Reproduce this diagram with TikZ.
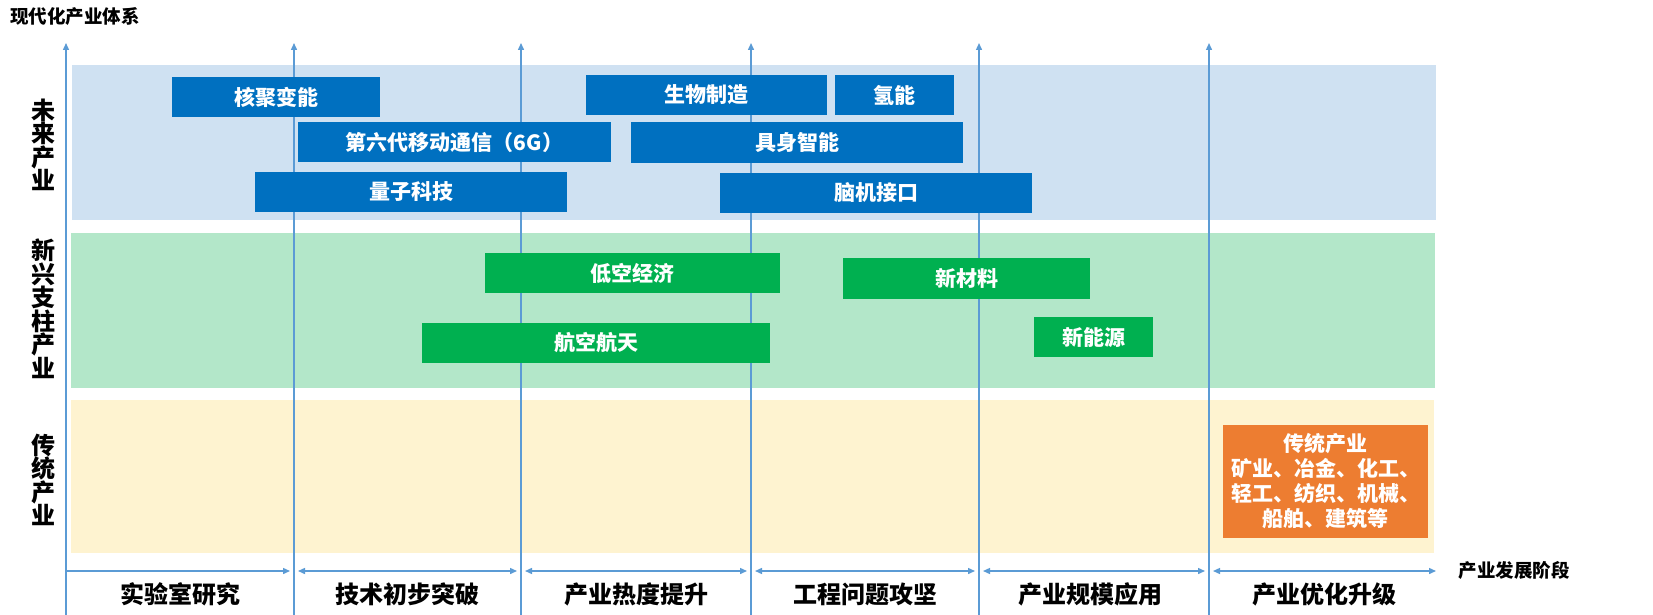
\documentclass[tikz,border=0pt]{standalone}
\usepackage{fontspec}
\setmainfont{Noto Sans CJK SC}
\usetikzlibrary{arrows.meta}
\definecolor{axisblue}{HTML}{5B9BD5}
\definecolor{bandblue}{HTML}{CFE1F2}
\definecolor{bandgreen}{HTML}{B3E7C9}
\definecolor{bandyellow}{HTML}{FEF3D0}
\definecolor{boxblue}{HTML}{0070C0}
\definecolor{boxgreen}{HTML}{00B050}
\definecolor{boxorange}{HTML}{ED7D31}
\begin{document}
\begin{tikzpicture}[x=1pt,y=-1pt,
  axisline/.style={draw=axisblue, line width=1.4pt, -{Triangle[length=7pt,width=6pt]}},
  stagearrow/.style={draw=axisblue, line width=1.4pt, {Triangle[length=7pt,width=6pt]}-{Triangle[length=7pt,width=6pt]}},
  firstarrow/.style={draw=axisblue, line width=1.4pt, -{Triangle[length=7pt,width=6pt]}},
  indbox/.style={text=white, font=\fontsize{21}{21}\selectfont\bfseries, inner sep=0pt, minimum height=40pt, anchor=center},
  futbox/.style={indbox, fill=boxblue},
  newbox/.style={indbox, fill=boxgreen},
  catlabel/.style={font=\fontsize{24}{23.5}\selectfont\bfseries, align=center, inner sep=0pt},
  stagelabel/.style={font=\fontsize{24}{24}\selectfont\bfseries, inner sep=0pt},
  smalllabel/.style={font=\fontsize{18.5}{18.5}\selectfont\bfseries, inner sep=0pt}
]
\useasboundingbox (0,0) rectangle (1653,615);
\fill[white] (0,0) rectangle (1653,615);

% bands
\fill[bandblue] (72,65) rectangle (1436,220);
\fill[bandgreen] (71,233) rectangle (1435,388);
\fill[bandyellow] (71,400) rectangle (1434,553);

% vertical axes
\foreach \i/\x in {1/66,2/294,3/521,4/751,5/979,6/1209}{
  \coordinate (vb\i) at (\x,615);
  \coordinate (vt\i) at (\x,43);
  \draw[axisline] (vb\i) -- (vt\i);
}

% title
\node[smalllabel, anchor=west] (title) at (10,17) {现代化产业体系};

% category labels
\node[catlabel] (catfut) at (43.5,145) {未\\来\\产\\业};
\node[catlabel] (catnew) at (43.5,309) {新\\兴\\支\\柱\\产\\业};
\node[catlabel] (cattrad) at (43.5,480) {传\\统\\产\\业};

% future industries
\node[futbox, minimum width=208pt] (hejubian) at (276,97) {核聚变能};
\node[futbox, minimum width=241pt] (shengwu) at (706.5,95) {生物制造};
\node[futbox, minimum width=119pt] (qingneng) at (894.5,95.5) {氢能};
\node[futbox, minimum width=313pt] (sixg) at (454.5,142) {第六代移动通信（6G）};
\node[futbox, minimum width=332pt] (jushen) at (797,142.5) {具身智能};
\node[futbox, minimum width=312pt] (liangzi) at (411,192) {量子科技};
\node[futbox, minimum width=312pt] (naoji) at (876,192.5) {脑机接口};

% emerging pillar industries
\node[newbox, minimum width=295pt] (dikong) at (632.5,273) {低空经济};
\node[newbox, minimum width=247pt, minimum height=41pt] (xincailiao) at (966.5,278.5) {新材料};
\node[newbox, minimum width=348pt] (hangkong) at (596,343) {航空航天};
\node[newbox, minimum width=119pt] (xinnengyuan) at (1093.5,337) {新能源};

% traditional industries
\node[fill=boxorange, text=white, font=\fontsize{21}{25}\selectfont\bfseries, align=center,
      inner sep=0pt, minimum width=205pt, minimum height=113pt] (trad) at (1325.5,481.5)
  {传统产业\\矿业、冶金、化工、\\轻工、纺织、机械、\\船舶、建筑等};

% stage arrows
\coordinate (ha0) at (66,571);
\coordinate (hb0) at (290,571);
\draw[firstarrow] (ha0) -- (hb0);
\foreach \i/\a/\b in {1/298/517,2/525/747,3/755/975,4/983/1205,5/1213/1436}{
  \coordinate (ha\i) at (\a,571);
  \coordinate (hb\i) at (\b,571);
  \draw[stagearrow] (ha\i) -- (hb\i);
}

% stage labels
\node[stagelabel] (s1) at (180,594) {实验室研究};
\node[stagelabel] (s2) at (407.5,594) {技术初步突破};
\node[stagelabel] (s3) at (636,594) {产业热度提升};
\node[stagelabel] (s4) at (865,594) {工程问题攻坚};
\node[stagelabel] (s5) at (1090,594) {产业规模应用};
\node[stagelabel] (s6) at (1324,594) {产业优化升级};

\node[smalllabel] (stageaxis) at (1514,570) {产业发展阶段};
\end{tikzpicture}
\end{document}
